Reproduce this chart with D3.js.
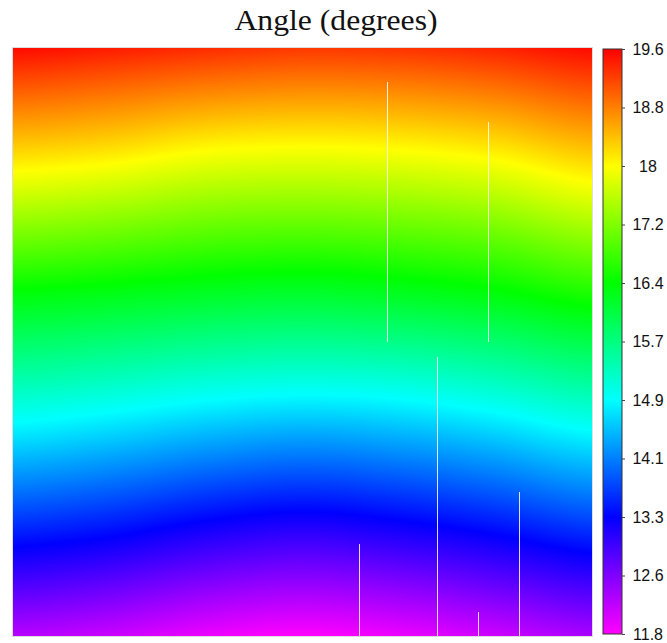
<!DOCTYPE html>
<html>
<head>
<meta charset="utf-8">
<script src="https://cdn.jsdelivr.net/npm/d3@7"></script>
<style>
  html, body { margin: 0; padding: 0; background: #fff; }
  svg { display: block; }
</style>
</head>
<body>
<svg id="chart" width="667" height="643"></svg>
<script>
// Viewing angle field (degrees) sampled on a coarse knot grid of the scene.
const chartTitle = "Angle (degrees)";

// Knot positions: scene column / scan line indices.
const colKnots = [0, 96.5, 193, 289.5, 386, 482.5, 579];
const rowKnots = [0, 49, 98, 147, 196, 245, 294, 343, 392, 441, 490, 539, 588];

// Angle at each knot, one row per scan-line knot (top to bottom).
const angleGrid = [
  [19.50, 19.40, 19.30, 19.22, 19.25, 19.35, 19.50],
  [18.91, 18.81, 18.68, 18.62, 18.65, 18.76, 18.96],
  [18.32, 18.23, 18.06, 18.01, 18.05, 18.17, 18.41],
  [17.70, 17.60, 17.45, 17.41, 17.46, 17.58, 17.85],
  [17.05, 16.96, 16.84, 16.80, 16.86, 16.98, 17.23],
  [16.39, 16.32, 16.23, 16.18, 16.26, 16.39, 16.61],
  [15.82, 15.73, 15.62, 15.56, 15.62, 15.77, 15.99],
  [15.25, 15.14, 15.00, 14.93, 14.98, 15.15, 15.38],
  [14.67, 14.54, 14.37, 14.27, 14.35, 14.52, 14.76],
  [14.05, 13.92, 13.73, 13.62, 13.72, 13.90, 14.14],
  [13.43, 13.31, 13.10, 12.98, 13.10, 13.28, 13.51],
  [12.82, 12.69, 12.48, 12.37, 12.48, 12.67, 12.89],
  [12.20, 12.08, 11.87, 11.76, 11.87, 12.06, 12.28]
];

// Columns with missing samples (scene column, first and last scan line).
const gapCols  = [374, 475, 424, 506, 346, 465];
const gapStart = [34,  74,  309, 444, 496, 564];
const gapEnd   = [294, 294, 588, 588, 588, 588];

// Rainbow colour scale.
const colorDomain = [11.76, 13.32, 14.88, 16.44, 18.0, 19.56];
const colorRange  = ["#ff00ff", "#0000ff", "#00ffff", "#00ff00", "#ffff00", "#ff0000"];

// Colour bar ticks.
const colorTicks = [11.76, 12.54, 13.32, 14.10, 14.88, 15.66, 16.44, 17.22, 18.00, 18.78, 19.56];
const colorTickLabels = ["11.8", "12.6", "13.3", "14.1", "14.9", "15.7", "16.4", "17.2", "18", "18.8", "19.6"];

// ---- layout ----
const svg = d3.select("#chart");
const plot = { left: 13, right: 592, top: 48, bottom: 636 };
const bar = { left: 603, width: 19, top: 49, bottom: 634 };

const x = d3.scaleLinear().domain([colKnots[0], colKnots[colKnots.length - 1]]).range([plot.left, plot.right]);
const y = d3.scaleLinear().domain([rowKnots[0], rowKnots[rowKnots.length - 1]]).range([plot.top, plot.bottom]);
const color = d3.scaleLinear().domain(colorDomain).range(colorRange).clamp(true);

// ---- field rendering (smooth interpolation between knots) ----
function fracIndex(knots, v) {
  const n = knots.length;
  let i = d3.bisectRight(knots, v) - 1;
  i = Math.max(0, Math.min(n - 2, i));
  const f = i + (v - knots[i]) / (knots[i + 1] - knots[i]);
  return Math.max(0, Math.min(n - 1, f));
}
function catmullRom(p0, p1, p2, p3, t) {
  return 0.5 * (2 * p1 + (-p0 + p2) * t + (2 * p0 - 5 * p1 + 4 * p2 - p3) * t * t + (-p0 + 3 * p1 - 3 * p2 + p3) * t * t * t);
}
function alongRow(r, fc) {
  const row = angleGrid[r];
  const n = row.length;
  const i = Math.min(n - 2, Math.floor(fc));
  const t = fc - i;
  const g = k => row[Math.max(0, Math.min(n - 1, k))];
  return catmullRom(g(i - 1), g(i), g(i + 1), g(i + 2), t);
}
function angleAt(c, r) {
  const fc = fracIndex(colKnots, c);
  const fr = fracIndex(rowKnots, r);
  const i = Math.min(rowKnots.length - 2, Math.floor(fr));
  const t = fr - i;
  return alongRow(i, fc) * (1 - t) + alongRow(i + 1, fc) * t;
}

// Colour lookup table
const lutN = 2048;
const vMin = colorDomain[0], vMax = colorDomain[colorDomain.length - 1];
const lut = d3.range(lutN).map(k => d3.rgb(color(vMin + (vMax - vMin) * k / (lutN - 1))));

const W = Math.round(plot.right - plot.left);
const H = Math.round(plot.bottom - plot.top);
const canvas = document.createElement("canvas");
canvas.width = W; canvas.height = H;
const ctx = canvas.getContext("2d");
const img = ctx.createImageData(W, H);
for (let py = 0; py < H; py++) {
  const r = y.invert(plot.top + py + 0.5);
  for (let px = 0; px < W; px++) {
    const c = x.invert(plot.left + px + 0.5);
    const v = angleAt(c, r);
    let k = Math.round((v - vMin) / (vMax - vMin) * (lutN - 1));
    k = Math.max(0, Math.min(lutN - 1, k));
    const col = lut[k];
    const o = (py * W + px) * 4;
    img.data[o] = col.r; img.data[o + 1] = col.g; img.data[o + 2] = col.b; img.data[o + 3] = 255;
  }
}
ctx.putImageData(img, 0, 0);

svg.append("image")
  .attr("x", plot.left).attr("y", plot.top)
  .attr("width", W).attr("height", H)
  .attr("preserveAspectRatio", "none")
  .attr("href", canvas.toDataURL());

// Missing-sample columns
svg.append("g").selectAll("rect")
  .data(d3.range(gapCols.length))
  .join("rect")
  .attr("x", i => x(gapCols[i]))
  .attr("width", i => Math.max(1, x(gapCols[i] + 1) - x(gapCols[i])))
  .attr("y", i => y(gapStart[i]))
  .attr("height", i => y(gapEnd[i]) - y(gapStart[i]))
  .attr("fill", "#ffffff")
  .attr("fill-opacity", 0.85);

// Thin frame around the field
svg.append("rect")
  .attr("x", plot.left - 0.5).attr("y", plot.top - 0.5)
  .attr("width", W + 1).attr("height", H + 1)
  .attr("fill", "none").attr("stroke", "#dcdcdc").attr("stroke-width", 1);

// ---- title ----
svg.append("text")
  .attr("x", 336).attr("y", 30)
  .attr("text-anchor", "middle")
  .attr("font-family", "'Liberation Serif', 'DejaVu Serif', serif")
  .attr("font-size", 29)
  .attr("textLength", 203)
  .attr("lengthAdjust", "spacingAndGlyphs")
  .attr("fill", "#111")
  .text(chartTitle);

// ---- colour bar ----
const cScale = d3.scaleLinear().domain([vMin, vMax]).range([bar.bottom, bar.top]);
const defs = svg.append("defs");
const grad = defs.append("linearGradient")
  .attr("id", "cbar").attr("x1", 0).attr("y1", 1).attr("x2", 0).attr("y2", 0);
grad.selectAll("stop")
  .data(colorDomain)
  .join("stop")
  .attr("offset", d => (d - vMin) / (vMax - vMin))
  .attr("stop-color", d => color(d));

svg.append("rect")
  .attr("x", bar.left).attr("y", bar.top)
  .attr("width", bar.width).attr("height", bar.bottom - bar.top)
  .attr("fill", "url(#cbar)")
  .attr("stroke", "#333").attr("stroke-width", 1);

const axis = d3.axisRight(cScale)
  .tickValues(colorTicks)
  .tickFormat((d, i) => colorTickLabels[i])
  .tickSize(3)
  .tickPadding(23);

const gAxis = svg.append("g")
  .attr("transform", `translate(${bar.left + bar.width},0)`)
  .call(axis);
gAxis.select(".domain").remove();
gAxis.selectAll(".tick line").attr("stroke", "#444");
gAxis.selectAll(".tick text")
  .attr("text-anchor", "middle")
  .attr("font-family", "'Liberation Sans', Arial, sans-serif")
  .attr("font-size", 16)
  .attr("fill", "#111");
</script>
</body>
</html>
